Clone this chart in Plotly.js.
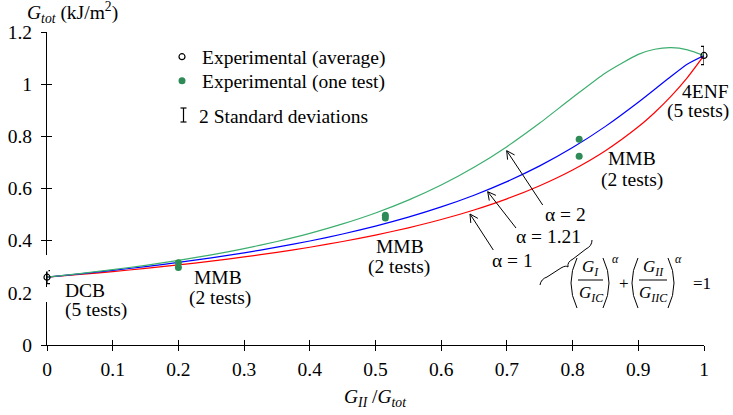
<!DOCTYPE html>
<html>
<head>
<meta charset="utf-8">
<script src="https://cdn.plot.ly/plotly-3.0.1.min.js"></script>
<style>html,body{margin:0;padding:0;background:#fff;}#chart{width:733px;height:415px;}</style>
</head>
<body>
<div id="chart"></div>
<script>
// ---- data ----
const curveX = [0,0.05,0.1,0.15,0.2,0.25,0.3,0.35,0.4,0.45,0.5,0.55,0.6,0.65,0.7,0.75,0.8,0.85,0.9,0.925,0.95,0.975,1];
const gAlpha1 = [0.26,0.2704,0.2816,0.2937,0.3070,0.3216,0.3375,0.3552,0.3748,0.3967,0.4213,0.4492,0.4810,0.5177,0.5604,0.6108,0.6711,0.7448,0.8365,0.8914,0.9540,1.0261,1.11];
const gAlpha121 = [0.26,0.2726,0.2860,0.3006,0.3166,0.3341,0.3534,0.3749,0.3988,0.4256,0.4559,0.4901,0.5294,0.5743,0.6263,0.6867,0.7569,0.8382,0.9308,0.9804,1.0304,1.0776,1.11];
const gAlpha2 = [0.26,0.2737,0.2888,0.3056,0.3244,0.3456,0.3696,0.3969,0.4281,0.4643,0.5063,0.5555,0.6132,0.6812,0.7605,0.8509,0.9487,1.0430,1.1143,1.1340,1.1400,1.1317,1.11];

const oneTestX = [0.2,0.2,0.515,0.515,0.81,0.81];
const oneTestY = [0.315,0.297,0.497,0.487,0.789,0.724];

const avgX = [0,1];
const avgY = [0.26,1.11];
const avgErr = [0.025,0.035];

const xTickVals = [0,0.1,0.2,0.3,0.4,0.5,0.6,0.7,0.8,0.9,1];
const xTickText = ['0','0.1','0.2','0.3','0.4','0.5','0.6','0.7','0.8','0.9','1'];
const yTickVals = [0,0.2,0.4,0.6,0.8,1,1.2];
const yTickText = ['0','0.2','0.4','0.6','0.8','1','1.2'];

// ---- layout helpers (pixel -> paper) ----
const W = 733, H = 415, L = 47, R = 29, T = 32, B = 70;
const PW = W - L - R, PH = H - T - B;
function px(x){ return (x - L) / PW; }
function py(y){ return (H - B - y) / PH; }
const FONT = '"Liberation Serif", "Times New Roman", serif';

const annotations = [];
function ann(text, x, y, opts){
  annotations.push(Object.assign({
    text: text, x: px(x), y: py(y), xref: 'paper', yref: 'paper',
    showarrow: false, xanchor: 'center', yanchor: 'middle',
    font: {family: FONT, size: 19.5, color: '#000'}
  }, opts || {}));
}
const shapes = [];
function lineShape(x0,y0,x1,y1,w,col){
  shapes.push({type:'line', xref:'paper', yref:'paper', x0:px(x0), y0:py(y0), x1:px(x1), y1:py(y1),
    line:{color:col||'#000', width:w||1}, layer:'above'});
}
function rectShape(x0,y0,x1,y1,col){
  shapes.push({type:'rect', xref:'paper', yref:'paper', x0:px(x0), y0:py(y0), x1:px(x1), y1:py(y1),
    line:{width:0}, fillcolor:col, layer:'above'});
}
function pathShape(cmds,w){
  let s = '';
  cmds.forEach(c => {
    s += c[0] + ' ';
    for (let i = 1; i < c.length; i += 2) s += px(c[i]).toFixed(5) + ',' + py(c[i+1]).toFixed(5) + ' ';
  });
  shapes.push({type:'path', xref:'paper', yref:'paper', path:s.trim(), line:{color:'#000', width:w||1}, layer:'above'});
}
function arrow(tx,ty,hx,hy){
  lineShape(tx,ty,hx,hy,1);
  const dx = tx-hx, dy = ty-hy, len = Math.hypot(dx,dy);
  const ux = dx/len, uy = dy/len, a = 28*Math.PI/180, s = 9;
  [a,-a].forEach(t => {
    const rx = ux*Math.cos(t) - uy*Math.sin(t), ry = ux*Math.sin(t) + uy*Math.cos(t);
    lineShape(hx,hy,hx+rx*s,hy+ry*s,1);
  });
}

// white gaps in the y axis line around the DCB label (as in the reference)
lineShape(47,255,47,271.5,3,'#fff');
rectShape(40,287,54,302,'#fff');

// axis titles
ann('<i>G</i><sub><i>tot</i></sub> (kJ/m<sup>2</sup>)', 25, 12, {xanchor:'left'});
ann('<i>G</i><sub><i>II</i></sub> /<i>G</i><sub><i>tot</i></sub>', 375, 398);

// test labels
ann('DCB', 63, 290, {xanchor:'left'});
ann('(5 tests)', 63, 310, {xanchor:'left'});
ann('MMB', 218, 277);
ann('(2 tests)', 220, 298);
ann('MMB', 400, 247);
ann('(2 tests)', 399, 267);
ann('MMB', 632, 158);
ann('(2 tests)', 632, 180);
ann('4ENF', 731, 91, {xanchor:'right'});
ann('(5 tests)', 731, 111, {xanchor:'right'});

// alpha labels and arrows
ann('α = 2', 543, 214, {xanchor:'left'});
ann('α = 1.21', 514, 236, {xanchor:'left'});
ann('α = 1', 490, 260, {xanchor:'left'});
arrow(542.7,205,506.7,150.7);
arrow(516,228,487.7,191.7);
arrow(493.3,250,470,214);

// legend third entry
ann('2 Standard deviations', 197, 116, {xanchor:'left'});
lineShape(183.5,108,183.5,122,1.2);
lineShape(180.5,108,186.5,108,1.2);
lineShape(180.5,122,186.5,122,1.2);

// brace
pathShape([['M',540,285],['Q',541,279,547,277],['L',561,268],['Q',566,265,568,267],['Q',567,262,573,259],['L',586,249],['Q',592,246,592,240]],1);

// formula
const fF = {family: FONT, size: 17, color:'#000'};
pathShape([['M',577,258],['Q',565,283,577,308]],1);
pathShape([['M',603,258],['Q',615,283,603,308]],1);
pathShape([['M',638,258],['Q',626,283,638,308]],1);
pathShape([['M',668,258],['Q',680,283,668,308]],1);
lineShape(578,280,603,280,1);
lineShape(639,280,667,280,1);
ann('<i>G</i><sub><i>I</i></sub>', 590, 268, {font:fF});
ann('<i>G</i><sub><i>IC</i></sub>', 591, 294, {font:fF});
ann('<i>G</i><sub><i>II</i></sub>', 653, 268, {font:fF});
ann('<i>G</i><sub><i>IIC</i></sub>', 653, 294, {font:fF});
ann('<i>α</i>', 615, 259, {font:{family:FONT,size:12,color:'#000'}});
ann('<i>α</i>', 678, 259, {font:{family:FONT,size:12,color:'#000'}});
ann('+', 624, 283, {font:fF});
ann('=1', 702, 283, {font:fF});

const traces = [
  {x: curveX, y: gAlpha1, mode:'lines', line:{color:'#ff0000', width:1.2, shape:'spline', smoothing:0.6}, showlegend:false, hoverinfo:'skip', cliponaxis:false, name:'α = 1'},
  {x: curveX, y: gAlpha121, mode:'lines', line:{color:'#0000ff', width:1.2, shape:'spline', smoothing:0.6}, showlegend:false, hoverinfo:'skip', cliponaxis:false, name:'α = 1.21'},
  {x: curveX, y: gAlpha2, mode:'lines', line:{color:'#3cae6e', width:1.2, shape:'spline', smoothing:0.6}, showlegend:false, hoverinfo:'skip', cliponaxis:false, name:'α = 2'},
  {x: oneTestX, y: oneTestY, mode:'markers', marker:{color:'#2e8b57', size:7}, name:'Experimental (one test)', legend:'legend2', cliponaxis:false},
  {x: avgX, y: avgY, mode:'markers', marker:{symbol:'circle-open', color:'#000', size:6, line:{width:1.2}},
    error_y:{type:'data', array:avgErr, visible:true, color:'#000', thickness:1.2, width:3},
    name:'Experimental (average)', legend:'legend', cliponaxis:false},
  {x:[0.5], y:[0.6], xaxis:'x2', yaxis:'y2', mode:'markers', marker:{opacity:0}, showlegend:false, hoverinfo:'skip'}
];

const axisFont = {family: FONT, size: 19.5, color:'#000'};
const legFont = {family: FONT, size: 19.5, color:'#000'};
const layout = {
  width: W, height: H,
  margin: {l: L, r: R, t: T, b: B, pad: 0},
  paper_bgcolor: '#fff', plot_bgcolor: '#fff',
  font: {family: FONT, color:'#000'},
  showlegend: true,
  legend: {x: px(162), xanchor:'left', y: py(57), yanchor:'middle', font:legFont, bgcolor:'rgba(0,0,0,0)', itemwidth:30},
  legend2: {x: px(162), xanchor:'left', y: py(81), yanchor:'middle', font:legFont, bgcolor:'rgba(0,0,0,0)', itemwidth:30},
  xaxis: {range:[0,1], tickvals:xTickVals, ticktext:xTickText, ticks:'outside', ticklen:5, tickwidth:1, tickcolor:'#000',
          showline:true, linecolor:'#000', linewidth:1, showgrid:false, zeroline:false, tickfont:axisFont, ticklabelstandoff:2, fixedrange:true},
  yaxis: {range:[0,1.2], tickvals:yTickVals, ticktext:yTickText, ticks:'outside', ticklen:5, tickwidth:1, tickcolor:'#000',
          showline:true, linecolor:'#000', linewidth:1, showgrid:false, zeroline:false, tickfont:axisFont, ticklabelstandoff:5, fixedrange:true},
  xaxis2: {range:[0,1], overlaying:'x', anchor:'y2', tickvals:xTickVals, ticks:'inside', ticklen:5, tickwidth:1, tickcolor:'#000',
           showticklabels:false, showline:false, showgrid:false, zeroline:false, fixedrange:true},
  yaxis2: {range:[0,1.2], overlaying:'y', anchor:'x2', side:'left', tickvals:yTickVals, ticks:'inside', ticklen:5, tickwidth:1, tickcolor:'#000',
           showticklabels:false, showline:false, showgrid:false, zeroline:false, fixedrange:true},
  annotations: annotations,
  shapes: shapes
};

Plotly.newPlot('chart', traces, layout, {displayModeBar:false, staticPlot:true});
</script>
</body>
</html>
